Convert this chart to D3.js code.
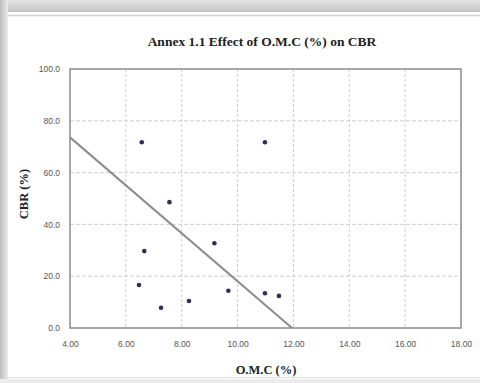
<!DOCTYPE html>
<html>
<head>
<meta charset="utf-8">
<script src="https://cdn.jsdelivr.net/npm/d3@7"></script>
<style>
  body { margin: 0; background: #fff; }
</style>
</head>
<body>
<script>
// readings
var omc = [6.57, 10.98, 7.56, 9.17, 6.66, 6.47, 9.67, 10.98, 11.48, 7.26, 8.26];
var cbr = [71.7, 71.7, 48.6, 32.7, 29.7, 16.6, 14.4, 13.4, 12.4, 7.8, 10.4];
// trend line end points
var trendX = [4.0, 11.95];
var trendY = [73.6, 0.0];
var xTicks = [4, 6, 8, 10, 12, 14, 16, 18];
var yTicks = [0, 20, 40, 60, 80, 100];

var W = 480, H = 383;
var svg = d3.select("body").append("svg")
    .attr("width", W)
    .attr("height", H);

var defs = svg.append("defs");
var gTop = defs.append("linearGradient").attr("id", "gtop")
    .attr("x1", 0).attr("y1", 0).attr("x2", 0).attr("y2", 1);
gTop.append("stop").attr("offset", "0%").attr("stop-color", "#e4e4e4");
gTop.append("stop").attr("offset", "100%").attr("stop-color", "#c4c4c4");
var gLeft = defs.append("linearGradient").attr("id", "gleft")
    .attr("x1", 0).attr("y1", 0).attr("x2", 1).attr("y2", 0);
gLeft.append("stop").attr("offset", "0%").attr("stop-color", "#bdbdbd");
gLeft.append("stop").attr("offset", "100%").attr("stop-color", "#ececec");

// page frame
svg.append("rect").attr("width", W).attr("height", H).attr("fill", "#fff");
svg.append("rect").attr("x", 0).attr("y", 0).attr("width", W).attr("height", 12).attr("fill", "url(#gtop)");
svg.append("rect").attr("x", 0).attr("y", 0).attr("width", 8).attr("height", H).attr("fill", "url(#gleft)");
svg.append("line").attr("x1", 8).attr("y1", 15.5).attr("x2", W).attr("y2", 15.5)
    .attr("stroke", "#cfcfcf").attr("stroke-width", 1.5);
svg.append("line").attr("x1", 8).attr("y1", 377.5).attr("x2", W).attr("y2", 377.5)
    .attr("stroke", "#dcdcdc").attr("stroke-width", 1);
svg.append("rect").attr("x", 0).attr("y", 379).attr("width", W).attr("height", 4).attr("fill", "#ececec");

var pLeft = 70, pRight = 461, pTop = 69, pBottom = 328;
var x = d3.scaleLinear().domain([4, 18]).range([pLeft, pRight]);
var y = d3.scaleLinear().domain([0, 100]).range([pBottom, pTop]);

// grid
svg.append("g").selectAll("line").data(xTicks.slice(1, -1)).enter().append("line")
    .attr("x1", function(d){ return x(d); }).attr("x2", function(d){ return x(d); })
    .attr("y1", pTop).attr("y2", pBottom)
    .attr("stroke", "#cfcfcf").attr("stroke-width", 1).attr("stroke-dasharray", "3,2");
svg.append("g").selectAll("line").data(yTicks.slice(1, -1)).enter().append("line")
    .attr("x1", pLeft).attr("x2", pRight)
    .attr("y1", function(d){ return y(d); }).attr("y2", function(d){ return y(d); })
    .attr("stroke", "#cfcfcf").attr("stroke-width", 1).attr("stroke-dasharray", "4,2");

// axes
var xAxis = svg.append("g").attr("transform", "translate(0," + pBottom + ")")
    .call(d3.axisBottom(x).tickValues(xTicks).tickFormat(d3.format(".2f")).tickSize(0).tickPadding(13));
var yAxis = svg.append("g").attr("transform", "translate(" + pLeft + ",0)")
    .call(d3.axisLeft(y).tickValues(yTicks).tickFormat(d3.format(".1f")).tickSize(0).tickPadding(10));
[xAxis, yAxis].forEach(function(a){
    a.select(".domain").remove();
    a.selectAll("text").attr("font-family", "Liberation Sans, Arial, sans-serif")
        .attr("font-size", 8.5).attr("fill", "#555");
});

// plot border
svg.append("rect").attr("x", pLeft).attr("y", pTop)
    .attr("width", pRight - pLeft).attr("height", pBottom - pTop)
    .attr("fill", "none").attr("stroke", "#8a8a8a").attr("stroke-width", 1.5);

// trend line
svg.append("line")
    .attr("x1", x(trendX[0])).attr("y1", y(trendY[0]))
    .attr("x2", x(trendX[1])).attr("y2", y(trendY[1]))
    .attr("stroke", "#8c8c8c").attr("stroke-width", 2);

// points
svg.append("g").selectAll("circle").data(omc).enter().append("circle")
    .attr("cx", function(d){ return x(d); })
    .attr("cy", function(d, i){ return y(cbr[i]); })
    .attr("r", 2.3)
    .attr("fill", "#2e2e58");

// titles
svg.append("text").attr("x", 262).attr("y", 46).attr("text-anchor", "middle")
    .attr("font-family", "Liberation Serif, Times New Roman, serif").attr("font-weight", "bold")
    .attr("font-size", 13.5).attr("fill", "#222")
    .text("Annex 1.1 Effect of O.M.C (%) on CBR");
svg.append("text").attr("x", 266).attr("y", 374).attr("text-anchor", "middle")
    .attr("font-family", "Liberation Serif, Times New Roman, serif").attr("font-weight", "bold")
    .attr("font-size", 12.5).attr("fill", "#222")
    .text("O.M.C (%)");
svg.append("text").attr("transform", "translate(28,194) rotate(-90)").attr("text-anchor", "middle")
    .attr("font-family", "Liberation Serif, Times New Roman, serif").attr("font-weight", "bold")
    .attr("font-size", 12.5).attr("fill", "#222")
    .text("CBR (%)");
</script>
</body>
</html>
